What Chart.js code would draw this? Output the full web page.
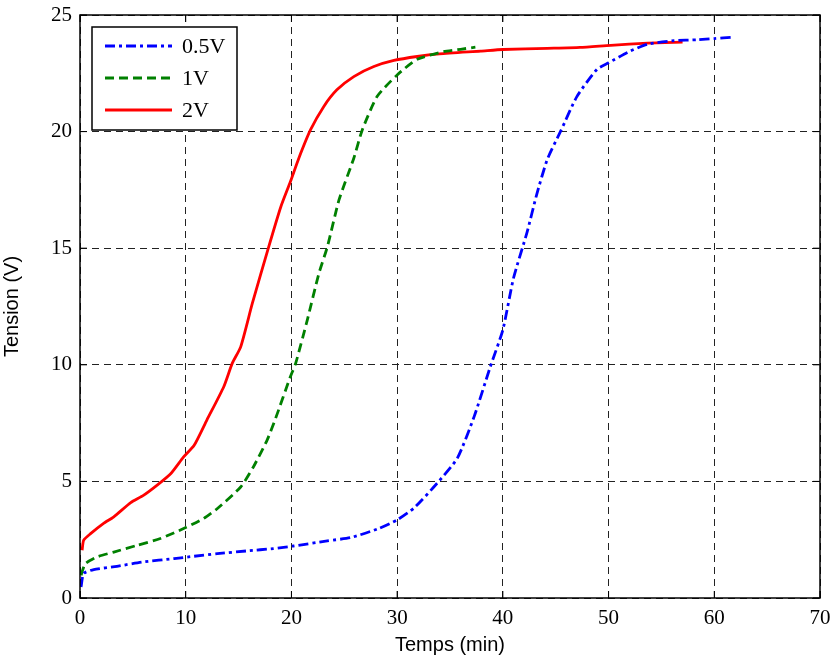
<!DOCTYPE html>
<html>
<head>
<meta charset="utf-8">
<script src="https://cdn.jsdelivr.net/npm/chart.js@4/dist/chart.umd.min.js"></script>
<style>
html,body{margin:0;padding:0;background:#fff;}
#wrap{width:835px;height:659px;}
</style>
</head>
<body>
<div id="wrap"><canvas id="chart" width="835" height="659"></canvas></div>
<script>
/* ---------- DATA ---------- */

const seriesLabels = ["0.5V","1V","2V"];

const t05 = [0.1,0.35,1.3,3.5,6,8.9,10.8,13,15.8,18.3,20.2,23.4,25.6,28.2,30,31.6,33.8,35.7,37.3,38.8,40,41,42.3,43.2,44.2,45.5,47,48.9,50,51.8,53.7,56.2,58.4,60,61.7];
const v05 = [0.47,1.05,1.22,1.36,1.55,1.69,1.79,1.9,2.02,2.12,2.23,2.45,2.59,2.97,3.35,3.86,4.93,6.0,7.8,9.9,11.5,13.7,15.7,17.3,18.8,20.05,21.5,22.67,22.95,23.4,23.75,23.9,23.94,23.99,24.05];

const t1 = [0.1,0.5,1.6,3.2,5.4,7.6,10,11.7,13,15.2,16.4,17.7,18.5,19.9,20.4,21.5,22.6,23.4,24.5,25.9,26.7,28.1,30,31.9,34.4,36,37.4];
const v1 = [0.97,1.47,1.76,1.97,2.26,2.55,3.02,3.41,3.84,4.76,5.62,6.77,7.7,9.49,10.06,11.92,13.92,15.06,17.07,18.86,20.07,21.5,22.43,23.1,23.43,23.53,23.62];

const t2 = [0.2,0.35,1,2.2,3.2,4.8,6,7.3,8.6,9.8,10.8,12,13.6,14.4,15.2,16.3,17.85,19,19.9,20.7,21.8,23.05,24.3,25.9,27.8,29.7,31.9,34,37.9,40,44.2,47.3,50.2,53.7,57];
const v2 = [2.05,2.48,2.76,3.19,3.48,4.09,4.4,4.84,5.34,6.05,6.55,7.63,9.06,10.06,10.77,12.63,15.06,16.78,17.85,18.86,20.07,21.07,21.79,22.36,22.79,23.05,23.22,23.33,23.45,23.52,23.57,23.61,23.7,23.79,23.84];

const xTicks = [0,10,20,30,40,50,60,70];
const yTicks = [0,5,10,15,20,25];

/* ---------- HELPERS ---------- */

function pts(xs,ys){
return xs.map((x,i)=>({x:x,y:ys[i]}))
}

function makeSet(label,xs,ys,color,dash){
return {
label:label,
data:pts(xs,ys),
borderColor:color,
backgroundColor:color,
borderWidth:2.8,
borderDash:dash,
pointRadius:0,
tension:0.2,
fill:false
}
}

/* ---------- PLUGIN: box, inner ticks, legend ---------- */

const frame = {
id:"frame",
afterDatasetsDraw(chart){
const {ctx,chartArea:a,scales} = chart
ctx.save()
ctx.strokeStyle="#000"
ctx.lineWidth=1.5
ctx.setLineDash([])
ctx.strokeRect(a.left,a.top,a.right-a.left,a.bottom-a.top)
ctx.lineWidth=1
ctx.beginPath()
xTicks.forEach(v=>{
const x=scales.x.getPixelForValue(v)
ctx.moveTo(x,a.bottom);ctx.lineTo(x,a.bottom-7)
ctx.moveTo(x,a.top);ctx.lineTo(x,a.top+7)
})
yTicks.forEach(v=>{
const y=scales.y.getPixelForValue(v)
ctx.moveTo(a.left,y);ctx.lineTo(a.left+7,y)
ctx.moveTo(a.right,y);ctx.lineTo(a.right-7,y)
})
ctx.stroke()

/* legend box */
const bx=a.left+12, by=a.top+12, bw=145, bh=103
ctx.fillStyle="#fff"
ctx.fillRect(bx,by,bw,bh)
ctx.lineWidth=1.5
ctx.strokeRect(bx,by,bw,bh)
ctx.font="22px 'Liberation Serif'"
ctx.textBaseline="middle"
chart.data.datasets.forEach((ds,i)=>{
const y=by+19+i*32
ctx.strokeStyle=ds.borderColor
ctx.lineWidth=2.8
ctx.setLineDash(ds.borderDash||[])
ctx.beginPath()
ctx.moveTo(bx+13,y);ctx.lineTo(bx+80,y)
ctx.stroke()
ctx.setLineDash([])
ctx.fillStyle="#000"
ctx.fillText(ds.label,bx+90,y+1)
})
ctx.restore()
}
}

/* ---------- CHART ---------- */

new Chart(document.getElementById("chart").getContext("2d"),{
type:"line",
data:{
datasets:[
makeSet(seriesLabels[0],t05,v05,"#0000ff",[10,4,3,4]),
makeSet(seriesLabels[1],t1,v1,"#008000",[9,5]),
makeSet(seriesLabels[2],t2,v2,"#ff0000",[])
]
},
options:{
responsive:false,
animation:false,
layout:{padding:{top:15,right:15,left:0,bottom:0}},
plugins:{legend:{display:false},tooltip:{enabled:false}},
scales:{
x:{
type:"linear",min:0,max:70,
afterBuildTicks(s){s.ticks=xTicks.map(v=>({value:v}))},
afterFit(s){s.height=61;s.paddingLeft=0;s.paddingRight=0},
grid:{color:"#222",lineWidth:1,drawTicks:false,tickLength:0},
border:{display:false,dash:[7,5]},
ticks:{color:"#000",font:{family:"Liberation Serif",size:21},padding:8,maxRotation:0},
title:{display:true,text:"Temps (min)",color:"#000",font:{family:"Liberation Sans",size:20},padding:{top:0,bottom:2}}
},
y:{
type:"linear",min:0,max:25,
afterBuildTicks(s){s.ticks=yTicks.map(v=>({value:v}))},
afterFit(s){s.width=80;s.paddingTop=0;s.paddingBottom=0},
grid:{color:"#222",lineWidth:1,drawTicks:false,tickLength:0},
border:{display:false,dash:[7,5]},
ticks:{color:"#000",font:{family:"Liberation Serif",size:21},padding:8},
title:{display:true,text:"Tension (V)",color:"#000",font:{family:"Liberation Sans",size:20},padding:{top:0,bottom:4}}
}
}
},
plugins:[frame]
})
</script>
</body>
</html>
